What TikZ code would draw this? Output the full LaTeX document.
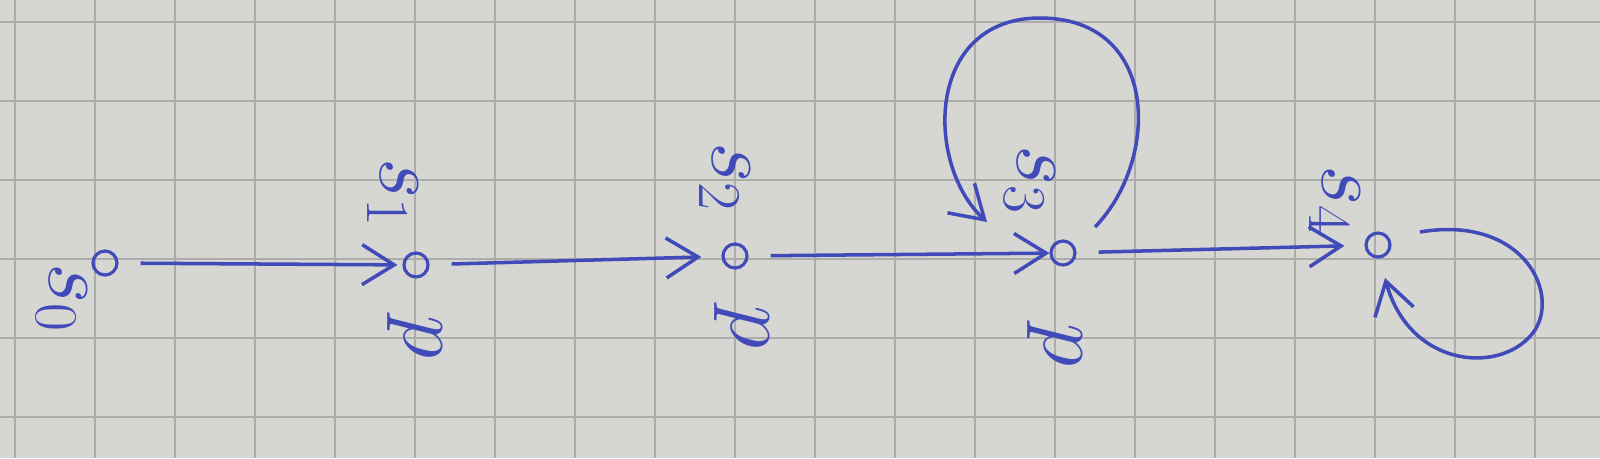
\documentclass[tikz,border=0pt]{standalone}
\usetikzlibrary{arrows.meta}
\definecolor{ink}{RGB}{64,74,184}
\definecolor{paper}{RGB}{214,214,210}
\definecolor{gridgray}{RGB}{172,172,170}
\begin{document}
\begin{tikzpicture}
            [x=0.1mm, y=-0.1mm,
            state/.style={circle, draw=ink, line width=0.9pt, minimum size=2.4mm, inner sep=0pt},
            lbl/.style={text=ink, rotate=-90, inner sep=0pt, font=\fontsize{24}{28}\selectfont},
            edge/.style={ink, line width=1pt, shorten <=2.2mm, -{Straight Barb[length=3.2mm, width=4mm]}},
            selfloop/.style={ink, line width=1pt, -{Straight Barb[length=3.2mm, width=4mm]}},
            gridline/.style={gridgray, line width=0.6pt}]

            \useasboundingbox (0,0) rectangle (1600,458);
            \fill[paper] (0,0) rectangle (1600,458);
            \foreach \gx in {15,95,...,1535} \draw[gridline] (\gx,0) -- (\gx,458);
            \foreach \gy in {22,101,...,420} \draw[gridline] (0,\gy) -- (1600,\gy);

            \node[state] (s0) at (105,263) {};
            \node[state] (s1) at (416,265) {};
            \node[state] (s2) at (735,256) {};
            \node[state] (s3) at (1063,253) {};
            \node[state] (s4) at (1378,245) {};

            \node[lbl] (n0) at (62,298) {$s_0$};
            \node[lbl] (n1) at (393,193) {$s_1$};
            \node[lbl] (n2) at (725,177) {$s_2$};
            \node[lbl] (n3) at (1030,180) {$s_3$};
            \node[lbl] (n4) at (1335,200) {$s_4$};

            \node[lbl] (p1) at (415,337) {$p$};
            \node[lbl] (p2) at (742,327) {$p$};
            \node[lbl] (p3) at (1055,345) {$p$};

            \draw[edge, shorten >=0.5mm] (s0) -- (s1);
            \draw[edge, shorten >=2mm] (s1) -- (s2);
            \draw[edge, shorten >=0mm] (s2) -- (s3);
            \draw[edge, shorten >=2mm] (s3) -- (s4);

            \coordinate (t3a) at (1095,227);
            \coordinate (t3b) at (987,222);
            \coordinate (t4a) at (1420,232);
            \coordinate (t4b) at (1385,278);
            \draw[selfloop] (t3a) .. controls (1160,160) and (1160,18) .. (1040,18)
                .. controls (925,18) and (925,165) .. (t3b);
            \draw[selfloop] (t4a) .. controls (1520,215) and (1560,290) .. (1535,330)
                .. controls (1505,375) and (1410,370) .. (t4b);

            %\draw[edge] (s4) -- (s0);

        \end{tikzpicture}
\end{document}
